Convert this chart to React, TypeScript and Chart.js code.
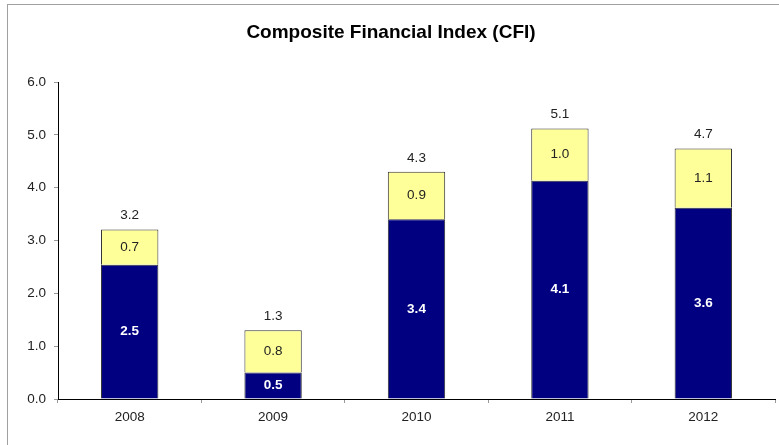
import { useEffect, useRef } from "react";
import { Chart, registerables } from "chart.js";
Chart.register(...registerables);

const years = ["2008", "2009", "2010", "2011", "2012"];
const baseValues = [2.54, 0.5, 3.4, 4.13, 3.62];
const addValues = [0.67, 0.8, 0.9, 0.99, 1.12];
const yMin = 0;
const yMax = 6;
const yStep = 1;
const chartTitle = "Composite Financial Index (CFI)";

const FONT = '"Liberation Sans", Arial, sans-serif';

const framePlugin = {
  id: "frame",
  beforeDraw(chart: any) {
    const ctx = chart.ctx;
    ctx.save();
    ctx.fillStyle = "#ffffff";
    ctx.fillRect(0, 0, chart.width, chart.height);
    ctx.strokeStyle = "#a0a0a0";
    ctx.lineWidth = 1;
    ctx.strokeRect(7.5, 4.5, chart.width + 20, chart.height + 20);
    ctx.fillStyle = "#000000";
    ctx.font = "bold 19px " + FONT;
    ctx.textAlign = "center";
    ctx.textBaseline = "middle";
    ctx.fillText(chartTitle, 391, 33);
    ctx.restore();
  },
};

const labelPlugin = {
  id: "valueLabels",
  afterDatasetsDraw(chart: any) {
    const ctx = chart.ctx;
    ctx.save();
    ctx.textAlign = "center";
    ctx.textBaseline = "middle";
    const m0 = chart.getDatasetMeta(0);
    const m1 = chart.getDatasetMeta(1);
    years.forEach((_, i) => {
      const b0 = m0.data[i];
      const b1 = m1.data[i];
      ctx.font = "bold 13.5px " + FONT;
      ctx.fillStyle = "#ffffff";
      ctx.fillText(baseValues[i].toFixed(1), b0.x, (b0.y + b0.base) / 2);
      ctx.font = "13.5px " + FONT;
      ctx.fillStyle = "#222222";
      ctx.fillText(addValues[i].toFixed(1), b1.x, (b1.y + b1.base) / 2);
      const total = baseValues[i] + addValues[i];
      ctx.fillText(total.toFixed(1), b1.x, b1.y - 14);
    });
    ctx.restore();
  },
};

export default function App() {
  const ref = useRef<HTMLCanvasElement>(null);
  useEffect(() => {
    if (!ref.current) return;
    const chart = new Chart(ref.current, {
      type: "bar",
      data: {
        labels: years,
        datasets: [
          {
            label: "Base",
            data: baseValues,
            backgroundColor: "#000080",
            borderColor: "#333333",
            borderWidth: 1,
            categoryPercentage: 1,
            barPercentage: 0.4,
          },
          {
            label: "Add",
            data: addValues,
            backgroundColor: "#FFFF99",
            borderColor: "#333333",
            borderWidth: 1,
            categoryPercentage: 1,
            barPercentage: 0.4,
          },
        ],
      },
      options: {
        responsive: false,
        animation: false,
        layout: { padding: { top: 82, left: 8, right: 4, bottom: 0 } },
        plugins: {
          legend: { display: false },
          title: { display: false },
          tooltip: { enabled: false },
        },
        scales: {
          x: {
            stacked: true,
            afterFit: (s: any) => {
              s.height = 46;
            },
            grid: {
              drawOnChartArea: false,
              drawTicks: true,
              tickLength: 4,
              color: "#999999",
              offset: true,
            },
            border: { color: "#000000", width: 1 },
            ticks: {
              color: "#222222",
              padding: 6,
              font: { family: FONT, size: 13.5 },
            },
          },
          y: {
            stacked: true,
            min: yMin,
            max: yMax,
            afterFit: (s: any) => {
              s.width = 50;
            },
            grid: {
              drawOnChartArea: false,
              drawTicks: true,
              tickLength: 4,
              color: "#999999",
            },
            border: { color: "#000000", width: 1 },
            ticks: {
              stepSize: yStep,
              color: "#222222",
              padding: 8,
              font: { family: FONT, size: 13.5 },
              callback: (v: any) => Number(v).toFixed(1),
            },
          },
        },
      },
      plugins: [framePlugin, labelPlugin],
    });
    return () => chart.destroy();
  }, []);
  return (
    <div style={{ position: "fixed", left: 0, top: 0, width: 779, height: 445 }}>
      <canvas ref={ref} width={779} height={445} style={{ display: "block" }} />
    </div>
  );
}
